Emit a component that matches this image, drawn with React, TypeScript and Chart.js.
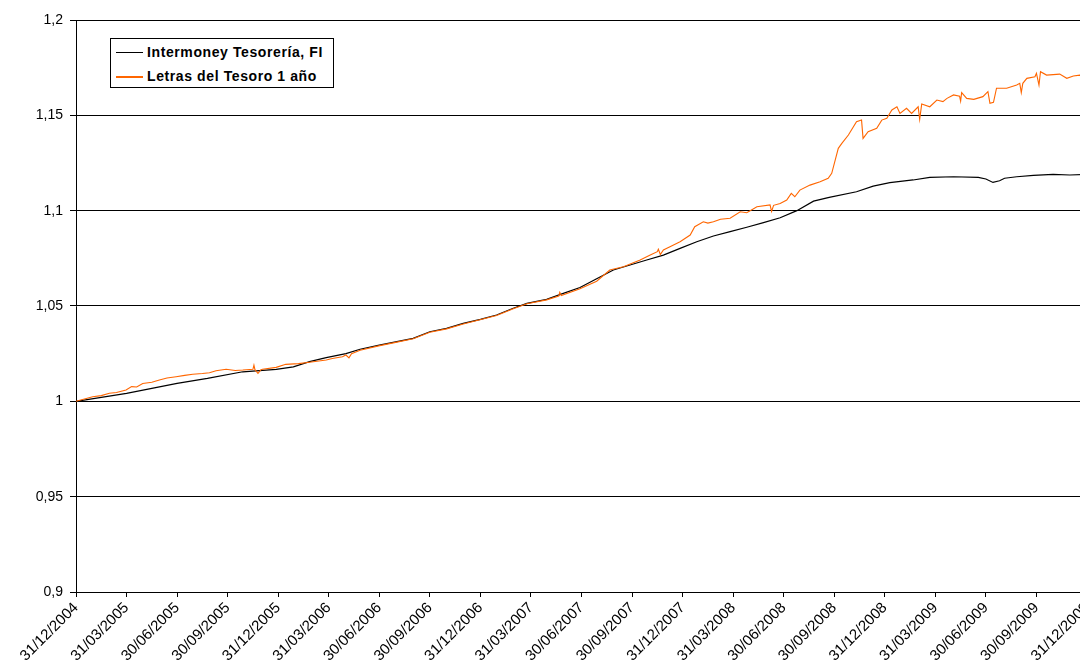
import React, { useEffect, useRef } from 'react';
import { Chart, registerables } from 'chart.js';

Chart.register(...registerables);

// Quarter-end tick labels (x position = quarters since 31/12/2004)
const tickLabels = [
  '31/12/2004', '31/03/2005', '30/06/2005', '30/09/2005', '31/12/2005',
  '31/03/2006', '30/06/2006', '30/09/2006', '31/12/2006', '31/03/2007',
  '30/06/2007', '30/09/2007', '31/12/2007', '31/03/2008', '30/06/2008',
  '30/09/2008', '31/12/2008', '31/03/2009', '30/06/2009', '30/09/2009',
  '31/12/2009',
];

const yTicks = [0.9, 0.95, 1, 1.05, 1.1, 1.15, 1.2];

const seriesNames = ['Intermoney Tesorería, FI', 'Letras del Tesoro 1 año'];

// Intermoney Tesorería, FI
const intermoneyT = [
  0, 0.5, 1.0, 1.5, 2.0, 2.6, 3.3, 3.96, 4.3, 4.62, 4.95, 5.34, 5.62, 6.0,
  6.67, 7.0, 7.33, 7.66, 8.0, 8.32, 8.65, 8.92, 9.31, 9.64, 9.97, 10.3, 10.63,
  10.96, 11.29, 11.62, 11.95, 12.28, 12.61, 12.94, 13.27, 13.6, 13.93, 14.26,
  14.59, 14.9, 15.44, 15.77, 16.1, 16.56, 16.89, 17.36, 17.85, 18.0, 18.14,
  18.27, 18.37, 18.61, 18.94, 19.33, 19.66, 20.0,
];
const intermoneyV = [
  1.0, 1.0021, 1.0042, 1.0068, 1.0094, 1.012, 1.0155, 1.0168, 1.0181, 1.0208,
  1.0229, 1.025, 1.0273, 1.0295, 1.033, 1.0365, 1.0383, 1.0409, 1.043, 1.0453,
  1.0488, 1.0514, 1.0535, 1.0566, 1.0597, 1.0643, 1.0689, 1.0715, 1.0741,
  1.0767, 1.0802, 1.0837, 1.0867, 1.089, 1.0913, 1.0937, 1.0963, 1.1, 1.105,
  1.107, 1.1099, 1.1129, 1.1147, 1.1161, 1.1175, 1.1178, 1.1175, 1.1166,
  1.1148, 1.1157, 1.117, 1.1178, 1.1185, 1.119, 1.1187, 1.119,
];

// Letras del Tesoro 1 año
const letrasT = [
  0, 0.33, 0.5, 0.66, 0.8, 0.99, 1.1, 1.2, 1.32, 1.5, 1.65, 1.8, 1.98, 2.15,
  2.31, 2.5, 2.64, 2.77, 2.97, 3.15, 3.3, 3.5, 3.52, 3.54, 3.6, 3.66, 3.69,
  3.96, 4.15, 4.4, 4.62, 4.95, 5.07, 5.27, 5.34, 5.4, 5.45, 5.62, 6.01, 6.3,
  6.67, 7.0, 7.33, 7.66, 7.99, 8.32, 8.65, 8.92, 9.31, 9.55, 9.57, 9.6, 9.97,
  10.3, 10.56, 10.83, 11.16, 11.36, 11.5, 11.52, 11.56, 11.62, 11.75, 11.95,
  12.15, 12.24, 12.41, 12.5, 12.61, 12.75, 12.94, 13.14, 13.27, 13.47, 13.73,
  13.76, 13.8, 13.93, 14.06, 14.15, 14.22, 14.32, 14.52, 14.72, 14.88, 14.95,
  15.02, 15.08, 15.15, 15.28, 15.44, 15.54, 15.57, 15.67, 15.84, 15.94, 16.04,
  16.14, 16.24, 16.3, 16.43, 16.53, 16.66, 16.69, 16.73, 16.89, 17.03, 17.15,
  17.23, 17.36, 17.48, 17.5, 17.52, 17.62, 17.76, 17.94, 18.04, 18.08, 18.15,
  18.21, 18.41, 18.61, 18.67, 18.7, 18.73, 18.81, 18.97, 19.0, 19.05, 19.08,
  19.2, 19.46, 19.6, 19.73, 19.86, 20.0,
];
const letrasV = [
  1.0, 1.0024, 1.003, 1.0042, 1.0046, 1.0059, 1.0077, 1.0075, 1.0094, 1.01,
  1.0112, 1.0122, 1.0129, 1.0136, 1.0142, 1.0146, 1.015, 1.016, 1.0168, 1.0162,
  1.0164, 1.0168, 1.019, 1.0166, 1.0147, 1.0166, 1.0168, 1.0178, 1.0194,
  1.0198, 1.0205, 1.0217, 1.0225, 1.0234, 1.0243, 1.0228, 1.025, 1.0268,
  1.0292, 1.0308, 1.0328, 1.0362, 1.038, 1.0406, 1.0428, 1.045, 1.0486, 1.0512,
  1.0532, 1.0552, 1.0572, 1.0555, 1.059, 1.063, 1.0689, 1.0706, 1.0741, 1.0767,
  1.0785, 1.0798, 1.077, 1.0794, 1.0811, 1.0837, 1.0872, 1.0916, 1.0942,
  1.0935, 1.0942, 1.0955, 1.096, 1.0994, 1.0989, 1.1021, 1.103, 1.0996, 1.1028,
  1.1038, 1.1056, 1.1091, 1.1073, 1.1108, 1.1134, 1.1152, 1.117, 1.1196,
  1.1266, 1.1327, 1.1353, 1.1397, 1.1466, 1.1475, 1.1379, 1.1414, 1.1432,
  1.1475, 1.1484, 1.1528, 1.1545, 1.151, 1.1537, 1.151, 1.1545, 1.1479, 1.1559,
  1.1545, 1.158, 1.1572, 1.1589, 1.1607, 1.16, 1.1575, 1.1619, 1.1589, 1.1584,
  1.1598, 1.1624, 1.1563, 1.1568, 1.1642, 1.1642, 1.1659, 1.1668, 1.1619,
  1.1668, 1.1694, 1.1702, 1.172, 1.1659, 1.1729, 1.1711, 1.1716, 1.1694,
  1.1706, 1.1711, 1.1708,
];

const BLACK = '#000000';
const ORANGE = '#FF6600';
const FONT = "'Liberation Sans', Arial, sans-serif";

export default function App() {
  const ref = useRef<HTMLCanvasElement | null>(null);

  useEffect(() => {
    document.body.style.margin = '0';
    document.body.style.overflow = 'hidden';
    const canvas = ref.current;
    if (!canvas) return;
    const chart = new Chart(canvas, {
      type: 'line',
      data: {
        datasets: [
          {
            label: seriesNames[0],
            data: intermoneyT.map((t, i) => ({ x: t, y: intermoneyV[i] })),
            borderColor: BLACK,
            borderWidth: 1.2,
            pointRadius: 0,
            tension: 0,
            order: 2,
          },
          {
            label: seriesNames[1],
            data: letrasT.map((t, i) => ({ x: t, y: letrasV[i] })),
            borderColor: ORANGE,
            borderWidth: 1.1,
            pointRadius: 0,
            tension: 0,
            order: 1,
          },
        ],
      },
      options: {
        animation: false,
        responsive: false,
        maintainAspectRatio: false,
        devicePixelRatio: 1,
        layout: { padding: { top: 20, right: 20, left: 0, bottom: 0 } },
        plugins: { legend: { display: false }, tooltip: { enabled: false } },
        scales: {
          x: {
            type: 'linear',
            min: 0,
            max: tickLabels.length - 1,
            afterBuildTicks: (s: any) => {
              s.ticks = tickLabels.map((_, i) => ({ value: i }));
            },
            afterFit: (s: any) => {
              s.height = 79;
            },
            ticks: {
              autoSkip: false,
              minRotation: 45,
              maxRotation: 45,
              padding: 2,
              color: '#000',
              font: { family: FONT, size: 15 },
              callback: (v: any) => tickLabels[Math.round(Number(v))] ?? '',
            },
            grid: { drawOnChartArea: false, drawTicks: true, tickLength: 5, color: BLACK },
            border: { color: BLACK, width: 1 },
          },
          y: {
            min: 0.9,
            max: 1.2,
            afterBuildTicks: (s: any) => {
              s.ticks = yTicks.map((v) => ({ value: v }));
            },
            afterFit: (s: any) => {
              s.width = 76;
            },
            ticks: {
              padding: 7,
              color: '#000',
              font: { family: FONT, size: 14 },
              callback: (v: any) => String(Number(v).toFixed(2)).replace(/0$/, '').replace(/\.0?$/, '').replace('.', ','),
            },
            grid: { color: BLACK, lineWidth: 1, tickLength: 6 },
            border: { color: BLACK, width: 1 },
          },
        },
      },
    });
    return () => chart.destroy();
  }, []);

  const rowStyle: React.CSSProperties = {
    position: 'absolute',
    left: 36,
    fontFamily: FONT,
    fontWeight: 'bold',
    fontSize: 14,
    letterSpacing: '0.6px',
    lineHeight: '16px',
    color: '#000',
    whiteSpace: 'nowrap',
  };

  return (
    <div style={{ position: 'absolute', left: 0, top: 0, width: 1107, height: 671, background: '#fff' }}>
      <canvas ref={ref} width={1107} height={671} style={{ display: 'block' }} />
      <div
        style={{
          position: 'absolute',
          left: 110,
          top: 38,
          width: 222,
          height: 48,
          border: '1px solid #000',
          background: '#fff',
        }}
      >
        <div style={{ position: 'absolute', left: 5, top: 13, width: 27, height: 1, background: BLACK }} />
        <div style={{ ...rowStyle, top: 5 }}>{seriesNames[0]}</div>
        <div style={{ position: 'absolute', left: 5, top: 37, width: 27, height: 2, background: ORANGE }} />
        <div style={{ ...rowStyle, top: 29 }}>{seriesNames[1]}</div>
      </div>
    </div>
  );
}
